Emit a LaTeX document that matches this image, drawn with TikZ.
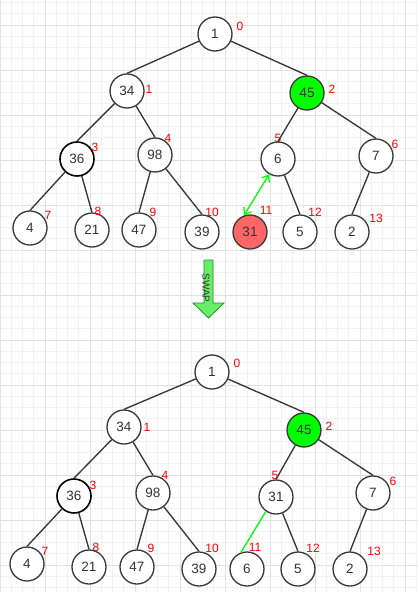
\documentclass[tikz,border=0pt]{standalone}
\usepackage{fontspec}
\setmainfont{Liberation Sans}
\usetikzlibrary{
  arrows.meta,
}
\definecolor{nodeline}{HTML}{383838}
\definecolor{nodetext}{HTML}{333333}
\definecolor{hotgreen}{HTML}{00FF00}
\definecolor{movedred}{HTML}{FF6666}
\definecolor{swapfill}{HTML}{66EE66}
\definecolor{swapline}{HTML}{2E8B2E}
\definecolor{gridlight}{HTML}{F2F2F2}
\definecolor{griddark}{HTML}{E2E2E2}

\begin{document}
\begin{tikzpicture}[
  x=1pt, y=-1pt,
  heapnode/.style={circle, draw=nodeline, line width=1.3pt, fill=white, minimum size=34pt, inner sep=0pt, text=nodetext, font=\fontsize{13.5}{15}\selectfont},
  std/.style={},
  hot/.style={fill=hotgreen},
  moved/.style={fill=movedred},
  firm/.style={draw=black, line width=1.6pt},
  idx/.style={text=red, inner sep=0pt, font=\fontsize{12}{14}\selectfont},
  link/.style={draw=nodeline, line width=1.35pt},
  swaplink/.style={draw=hotgreen, line width=1.3pt},
  gridminor/.style={draw=gridlight, line width=0.8pt},
  gridmajor/.style={draw=griddark, line width=0.8pt},
]
\useasboundingbox[fill=white] (0,0) rectangle (418,592);
% background grid
\foreach \k in {0,...,37} \draw[gridminor] (\k*11.25,0) -- ++(0,592);
\foreach \k in {-2,...,51} \draw[gridminor] (0,25+\k*11.25) -- ++(418,0);
\foreach \k in {0,...,9} \draw[gridmajor] (\k*45,0) -- ++(0,592);
\foreach \k in {0,...,13} \draw[gridmajor] (0,25+\k*45) -- ++(418,0);
% heap before the swap
\foreach \i/\x/\y/\v/\s/\lx/\ly in {
  0/215/34/1/std/240/26, 1/127/91/34/std/149/89, 2/307/93/45/hot/332/89,
  3/77/159/36/firm/95/147, 4/155/155/98/std/168/138, 5/278/159/6/std/278/138,
  6/376/156/7/std/395/144, 7/30/228/4/std/48/215, 8/92/230/21/std/98/211,
  9/139/230/47/std/153/212, 10/202/232/39/std/212/212, 11/250/232/31/moved/266/210,
  12/300/232/5/std/315/212, 13/352/232/2/std/376/218}
{
  \node[heapnode,\s] (t\i) at (\x,\y) {\v};
  \node[idx] (ti\i) at (\lx,\ly) {\i};
}
% heap after the swap
\foreach \i/\x/\y/\v/\s/\lx/\ly in {
  0/212/372/1/std/237/363, 1/124/427/34/std/147/427, 2/304/430/45/hot/329/426,
  3/74/496/36/firm/93/485, 4/153/493/98/std/165/475, 5/276/497/31/std/275/475,
  6/373/493/7/std/393/481, 7/27/564/4/std/45/551, 8/89/567/21/std/96/547,
  9/137/567/47/std/151/548, 10/199/569/39/std/212/548, 11/247/569/6/std/255/547,
  12/298/569/5/std/313/548, 13/350/569/2/std/374/551}
{
  \node[heapnode,\s] (b\i) at (\x,\y) {\v};
  \node[idx] (bi\i) at (\lx,\ly) {\i};
}
\foreach \c/\p in {1/0,2/0,3/1,4/1,5/2,6/2,7/3,8/3,9/4,10/4,12/5,13/6}
{
  \draw[link] (t\p) -- (t\c.north);
  \draw[link] (b\p) -- (b\c.north);
}
\draw[swaplink, {Straight Barb[length=6pt,width=9pt]}-{Straight Barb[length=6pt,width=9pt]}] (t11.110) -- (t5.240);
\draw[swaplink] (b5.235) -- (b11.110);
% swap arrow
\draw[fill=swapfill, draw=swapline, line width=0.8pt] (204,260) -- (213,260) -- (213,303) -- (224,303) -- (208.5,318) -- (193,303) -- (204,303) -- cycle;
\node[rotate=-90, text=nodetext, inner sep=0pt, font=\fontsize{10}{12}\selectfont] (swap) at (206,288) {SWAP};
\end{tikzpicture}
\end{document}
